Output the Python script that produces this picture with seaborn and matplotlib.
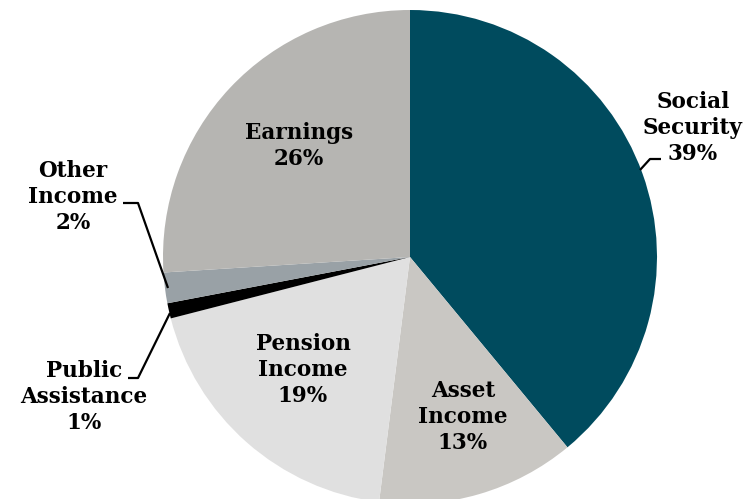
import matplotlib
matplotlib.use("Agg")
import matplotlib.pyplot as plt
import seaborn as sns

sns.set_theme(style="white")
plt.rcParams['font.family'] = ['DejaVu Serif']

categories = ["Social Security", "Asset Income", "Pension Income",
              "Public Assistance", "Other Income", "Earnings"]
label_text = ["Social\nSecurity", "Asset\nIncome", "Pension\nIncome",
              "Public\nAssistance", "Other\nIncome", "Earnings"]
values = [39, 13, 19, 1, 2, 26]
colors = ["#004B5E", "#C9C7C3", "#E0E0E0", "#000000", "#99A1A6", "#B6B5B2"]

W, H = 750, 499
cx, cy, R = 410, 257, 247

fig = plt.figure(figsize=(7.5, 4.99), dpi=100)
ax = fig.add_axes([0, 0, 1, 1])
ax.pie(values, colors=colors, startangle=90, counterclock=False,
       radius=1, center=(0, 0), wedgeprops=dict(linewidth=0))
ax.set_xlim((0 - cx) / R, (W - cx) / R)
ax.set_ylim((cy - H) / R, cy / R)
ax.set_aspect('auto')
ax.axis('off')

def P(px, py):
    return ((px - cx) / R, (cy - py) / R)

# label positions (pixel centres)
label_pos = {
    "Social Security": (693, 128),
    "Asset Income": (463, 417),
    "Pension Income": (303, 370),
    "Public Assistance": (84, 397),
    "Other Income": (73, 197),
    "Earnings": (299, 146),
}
for cat, lt, v in zip(categories, label_text, values):
    x, y = P(*label_pos[cat])
    ax.text(x, y, f"{lt}\n{v}%", ha='center', va='center', fontsize=15.5,
            fontweight='bold', color='black', linespacing=1.25)

# leader lines
lw = 1.6
for pts in [
    [(640, 170), (650, 159), (661, 159)],
    [(123, 203), (138, 203), (168, 288)],
    [(128, 378), (138, 378), (170, 313)],
]:
    xs, ys = zip(*[P(*p) for p in pts])
    ax.plot(xs, ys, color='black', lw=lw, solid_capstyle='butt')

fig.savefig("out.png", dpi=100, facecolor='white')
